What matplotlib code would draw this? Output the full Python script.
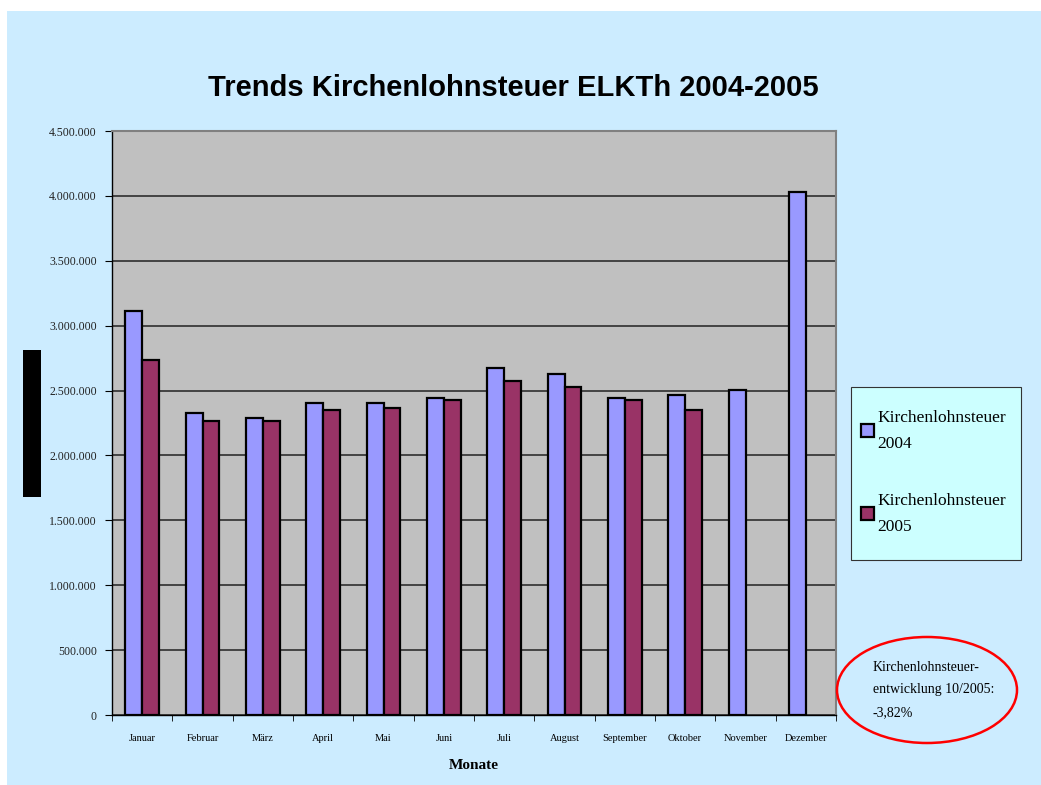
import numpy as np
import matplotlib.pyplot as plt
from matplotlib.patches import Rectangle, Ellipse

months = ["Januar", "Februar", "März", "April", "Mai", "Juni", "Juli",
          "August", "September", "Oktober", "November", "Dezember"]
steuer_2004 = [3113000, 2327000, 2289000, 2404000, 2404000, 2443000,
               2674000, 2628000, 2443000, 2466000, 2504000, 4030000]
steuer_2005 = [2735000, 2265000, 2265000, 2350000, 2366000, 2427000,
               2574000, 2527000, 2427000, 2350000]
y_ticks = [0, 500000, 1000000, 1500000, 2000000, 2500000, 3000000,
           3500000, 4000000, 4500000]
legend_labels = ["Kirchenlohnsteuer\n2004", "Kirchenlohnsteuer\n2005"]
note = "Kirchenlohnsteuer-\nentwicklung 10/2005:\n-3,82%"

bg = "#CCECFF"
serif = "Liberation Serif"

fig = plt.figure(figsize=(10.41, 7.85), dpi=100)
fig.patch.set_facecolor("white")
# light blue chart area with a thin white margin at top/left
fig.patches.append(Rectangle((7 / 1041, 0), 1 - 7 / 1041, 1 - 11 / 785,
                             transform=fig.transFigure, facecolor=bg,
                             edgecolor="none", zorder=-10))

ax = fig.add_axes([112 / 1041, 1 - 715 / 785, 724 / 1041, 584 / 785])
ax.set_facecolor("#C0C0C0")

x = np.arange(len(months))
w = 0.28
b1 = ax.bar(x[:len(steuer_2004)] - w / 2, steuer_2004, w, color="#9999FF",
            edgecolor="black", linewidth=1.6, zorder=3)
b2 = ax.bar(x[:len(steuer_2005)] + w / 2, steuer_2005, w, color="#993366",
            edgecolor="black", linewidth=1.6, zorder=3)

ax.set_xlim(-0.5, len(months) - 0.5)
ax.set_ylim(0, 4500000)
ax.set_yticks(y_ticks)
ax.set_yticklabels([f"{v:,}".replace(",", ".") for v in y_ticks],
                   fontfamily=serif, fontsize=8.5, color="#222222")
ax.yaxis.grid(True, color="#222222", linewidth=1.1, zorder=1)
ax.set_axisbelow(True)

ax.set_xticks(x)
ax.set_xticklabels(months, fontfamily=serif, fontsize=7.5)
ax.set_xticks(np.arange(len(months) + 1) - 0.5, minor=True)
ax.tick_params(axis="x", which="major", length=0, pad=14)
ax.tick_params(axis="x", which="minor", length=4, direction="out")
ax.tick_params(axis="y", length=5, direction="out", pad=6)

for side in ["top", "right"]:
    ax.spines[side].set_color("#808080")
    ax.spines[side].set_linewidth(1.5)
for side in ["left", "bottom"]:
    ax.spines[side].set_color("black")
    ax.spines[side].set_linewidth(1.0)

ax.set_xlabel("Monate", fontfamily=serif, fontsize=11, fontweight="bold",
              labelpad=11)

fig.text(513 / 1041, 1 - 88 / 785, "Trends Kirchenlohnsteuer ELKTh 2004-2005",
         ha="center", va="center", fontsize=21, fontweight="bold",
         fontfamily="Liberation Sans")

# redacted y label block
fig.patches.append(Rectangle((23 / 1041, 1 - 497 / 785), 18 / 1041, 147 / 785,
                             transform=fig.transFigure, facecolor="black",
                             edgecolor="none"))

# legend box
fig.patches.append(Rectangle((851 / 1041, 1 - 560 / 785), 170 / 1041, 173 / 785,
                             transform=fig.transFigure, facecolor="#CCFFFF",
                             edgecolor="#333333", linewidth=0.8, zorder=1))
leg = fig.legend([b1, b2], legend_labels, loc="upper left",
                 bbox_to_anchor=(845 / 1041, 1 - 394 / 785), frameon=False,
                 prop={"family": serif, "size": 12.5}, handlelength=0.75,
                 handleheight=0.75, handletextpad=0.2, labelspacing=2.35)
for t in leg.get_texts():
    t.set_linespacing(1.85)
leg.set_zorder(5)

# red ellipse note
fig.patches.append(Ellipse((927 / 1041, 1 - 690 / 785), 180 / 1041, 106 / 785,
                           transform=fig.transFigure, facecolor="none",
                           edgecolor="red", linewidth=1.8))
fig.text(873 / 1041, 1 - 690 / 785, note, ha="left", va="center",
         fontfamily=serif, fontsize=10, linespacing=1.95)

fig.savefig("out.png", dpi=100, facecolor=fig.get_facecolor())
